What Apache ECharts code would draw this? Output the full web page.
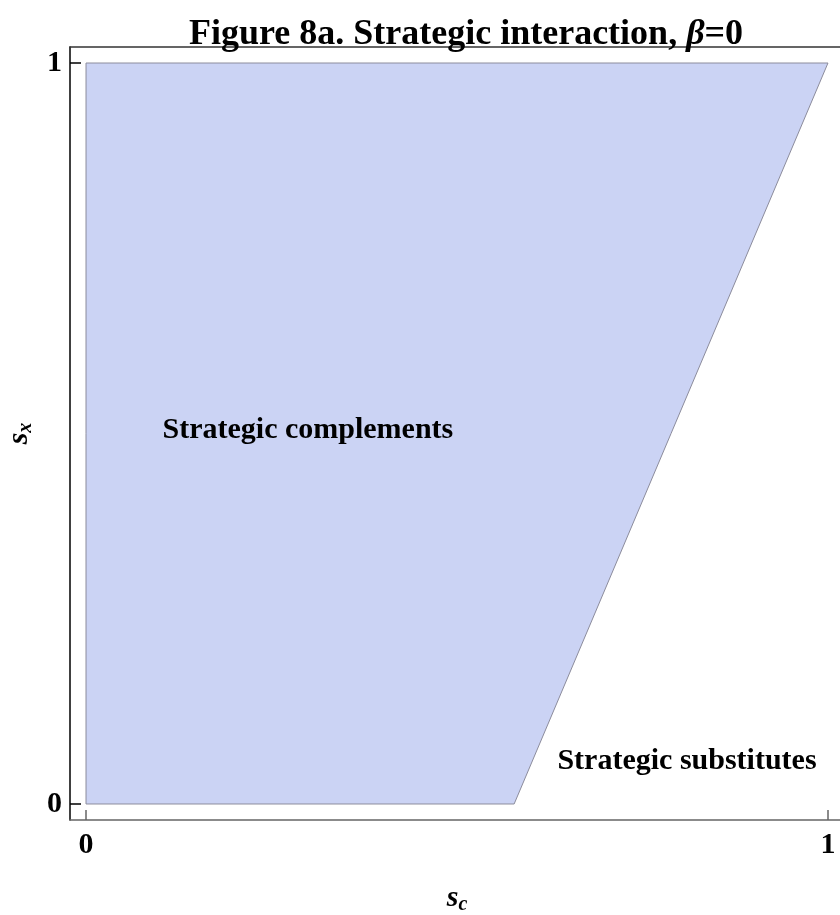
<!DOCTYPE html>
<html>
<head>
<meta charset="utf-8">
<script src="https://cdn.jsdelivr.net/npm/echarts@6/dist/echarts.min.js"></script>
<style>html,body{margin:0;padding:0;background:#fff}#c{width:840px;height:915px}</style>
</head>
<body>
<div id="c"></div>
<script>
// Region "strategic complements" polygon vertices (s_c, s_x)
const regionSc = [0, 0.577, 1, 0];
const regionSx = [0, 0, 1, 1];
// Tick values
const xTicks = [0, 1];
const yTicks = [0, 1];
// Region labels
const labelTexts = ['Strategic complements', 'Strategic substitutes'];
const labelSc = [0.299, 0.81];
const labelSx = [0.505, 0.058];

const pad = 0.0216;
const serif = '"Liberation Serif","Times New Roman",serif';

const polyData = regionSc.map((v, i) => [v, regionSx[i]]);
const labelData = labelTexts.map((t, i) => [labelSc[i], labelSx[i], t]);

const chart = echarts.init(document.getElementById('c'), null, { renderer: 'canvas' });
chart.setOption({
  animation: false,
  backgroundColor: '#fff',
  title: {
    text: '{t|Figure 8a. Strategic interaction, }{b|β}{t|=0}',
    left: 461, top: 12, textAlign: 'center',
    textStyle: {
      rich: {
        t: { fontFamily: serif, fontWeight: 'bold', fontSize: 36, color: '#000' },
        b: { fontFamily: serif, fontWeight: 'bold', fontStyle: 'italic', fontSize: 36, color: '#000' }
      }
    }
  },
  grid: { left: 70, top: 47, right: -4, bottom: 95, outerBoundsMode: 'none', containLabel: false },
  xAxis: [{
    type: 'value', min: -pad, max: 1 + pad,
    name: '{s|s}{c|c}', nameLocation: 'middle', nameGap: 62,
    nameTextStyle: {
      rich: {
        s: { fontFamily: serif, fontWeight: 'bold', fontStyle: 'italic', fontSize: 30, color: '#000' },
        c: { fontFamily: serif, fontWeight: 'bold', fontStyle: 'italic', fontSize: 20, color: '#000', padding: [13, 0, 0, 0] }
      }
    },
    axisLine: { show: true, onZero: false, lineStyle: { color: '#666', width: 1.5 } },
    axisTick: { show: true, inside: true, length: 10, customValues: xTicks, lineStyle: { color: '#666', width: 1.5 } },
    axisLabel: { customValues: xTicks, margin: 10, fontFamily: serif, fontWeight: 'bold', fontSize: 30, color: '#000', showMinLabel: true, showMaxLabel: true },
    splitLine: { show: false }
  }, {
    type: 'value', position: 'top', min: -pad, max: 1 + pad,
    axisLine: { show: true, onZero: false, lineStyle: { color: '#333', width: 1.5 } },
    axisTick: { show: false }, axisLabel: { show: false }, splitLine: { show: false }
  }],
  yAxis: {
    type: 'value', min: -pad, max: 1 + pad,
    name: '{s|s}{c|x}', nameLocation: 'middle', nameGap: 28, nameRotate: 90,
    nameTextStyle: {
      rich: {
        s: { fontFamily: serif, fontWeight: 'bold', fontStyle: 'italic', fontSize: 30, color: '#000' },
        c: { fontFamily: serif, fontWeight: 'bold', fontStyle: 'italic', fontSize: 20, color: '#000', padding: [13, 0, 0, 0] }
      }
    },
    axisLine: { show: true, onZero: false, lineStyle: { color: '#000', width: 1.5 } },
    axisTick: { show: true, inside: true, length: 11, customValues: yTicks, lineStyle: { color: '#000', width: 1.5 } },
    axisLabel: { customValues: yTicks, margin: 8, fontFamily: serif, fontWeight: 'bold', fontSize: 30, color: '#000' },
    splitLine: { show: false }
  },
  series: [{
    type: 'custom',
    coordinateSystem: 'cartesian2d',
    data: polyData,
    encode: { x: 0, y: 1 },
    renderItem: function (params, api) {
      if (params.dataIndex !== 0) return null;
      const pts = polyData.map(p => api.coord(p));
      return {
        type: 'polygon',
        shape: { points: pts },
        style: { fill: '#cbd3f4', stroke: '#8c8c9c', lineWidth: 1 }
      };
    },
    silent: true
  }, {
    type: 'custom',
    coordinateSystem: 'cartesian2d',
    data: labelData,
    encode: { x: 0, y: 1 },
    renderItem: function (params, api) {
      const p = api.coord([api.value(0), api.value(1)]);
      return {
        type: 'text',
        x: p[0], y: p[1],
        style: {
          text: labelData[params.dataIndex][2],
          fontFamily: serif, fontWeight: 'bold', fontSize: 30,
          fill: '#000', align: 'center', verticalAlign: 'middle'
        }
      };
    },
    silent: true
  }]
});
</script>
</body>
</html>
